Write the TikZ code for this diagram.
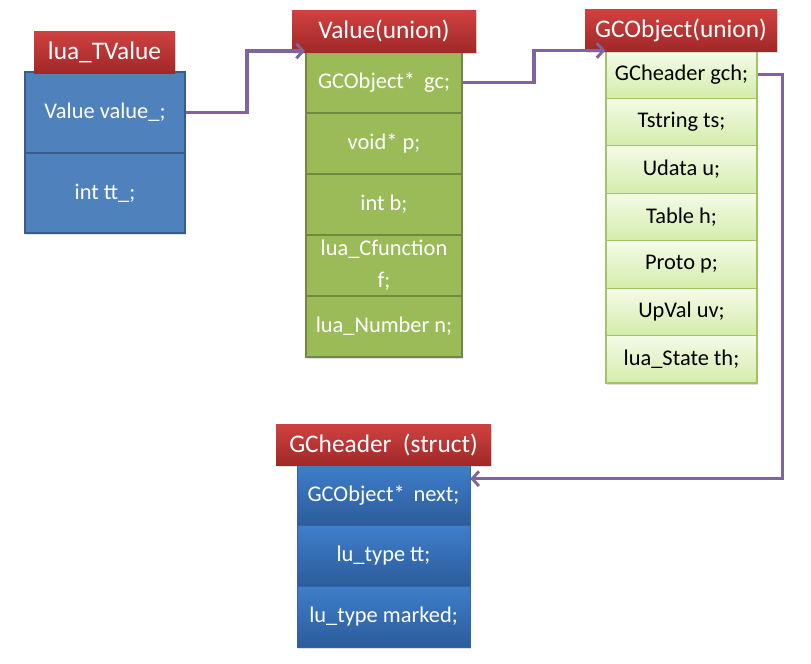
\documentclass[tikz,border=0pt]{standalone}
\usepackage{fontspec}
\setmainfont{Carlito}
\usetikzlibrary{arrows.meta,shadows}

\definecolor{hdtop}{RGB}{208,66,64}
\definecolor{hdbot}{RGB}{160,40,40}
\definecolor{tvblue}{RGB}{79,129,189}
\definecolor{tvline}{RGB}{56,93,138}
\definecolor{valgreen}{RGB}{155,187,89}
\definecolor{valline}{RGB}{113,137,63}
\definecolor{gcotop}{RGB}{244,251,232}
\definecolor{gcobot}{RGB}{212,236,170}
\definecolor{gcoline}{RGB}{160,196,104}
\definecolor{gchtop}{RGB}{62,126,203}
\definecolor{gchbot}{RGB}{44,92,154}
\definecolor{linkpurple}{RGB}{128,100,162}

\tikzset{
  soft/.style={drop shadow={shadow xshift=1pt,shadow yshift=-1.5pt,opacity=.25}},
  head/.style={soft,top color=hdtop,bottom color=hdbot,text=white,
    font=\fontsize{19}{21}\selectfont,minimum height=31.5pt,inner sep=0pt},
  cell/.style={inner sep=0pt,align=center,font=\fontsize{16.8}{24}\selectfont},
  tvcell/.style={cell,soft,fill=tvblue,draw=tvline,line width=1.5pt,text=white,
    minimum width=120pt},
  valcell/.style={cell,soft,fill=valgreen,draw=valline,line width=1.5pt,text=white,
    minimum width=117pt,minimum height=45.75pt},
  gcocell/.style={cell,soft,top color=gcotop,bottom color=gcobot,draw=gcoline,
    line width=.8pt,text=black,minimum width=113.25pt,minimum height=35.57pt},
  gchcell/.style={cell,soft,top color=gchtop,bottom color=gchbot,draw=gchtop!80!black,
    line width=.4pt,text=white,minimum width=129.75pt,minimum height=45.5pt},
  link/.style={draw=linkpurple,line width=2.6pt,
    -{Straight Barb[length=5pt,width=11pt,line width=2.2pt]}}
}

\begin{document}
\begin{tikzpicture}[x=0.75pt,y=-0.75pt]
  \useasboundingbox (0,0) rectangle (811,664);

  % lua_TValue
  \node[tvcell,minimum height=60.75pt] (tv1) at (105,112.5) {Value value\_;};
  \node[tvcell,minimum height=60pt]    (tv2) at (105,193)   {int tt\_;};
  \node[head,minimum width=105.75pt] (tvhead) at (104.5,52) {lua\_TValue};

  % Value(union)
  \node[valcell] (val1) at (384,82.5)  {GCObject*\hspace{.4em}gc;};
  \node[valcell] (val2) at (384,143.5) {void* p;};
  \node[valcell] (val3) at (384,204.5) {int b;};
  \node[valcell] (val4) at (384,265.5) {lua\_Cfunction\\f;};
  \node[valcell] (val5) at (384,326.5) {lua\_Number n;};
  \node[head,minimum width=138pt] (valhead) at (384,31) {Value(union)};

  % GCObject(union)
  \node[gcocell] (gco1) at (681.5,74.7)  {GCheader gch;};
  \node[gcocell] (gco2) at (681.5,122.1) {Tstring ts;};
  \node[gcocell] (gco3) at (681.5,169.6) {Udata u;};
  \node[gcocell] (gco4) at (681.5,217.0) {Table h;};
  \node[gcocell] (gco5) at (681.5,264.4) {Proto p;};
  \node[gcocell] (gco6) at (681.5,311.9) {UpVal uv;};
  \node[gcocell] (gco7) at (681.5,359.3) {lua\_State th;};
  \node[head,minimum width=144pt] (gcohead) at (681,30) {GCObject(union)};

  % GCheader (struct)
  \node[gchcell] (gch1) at (383.5,495.3) {GCObject*\hspace{.4em}next;};
  \node[gchcell] (gch2) at (383.5,556)   {lu\_type tt;};
  \node[gchcell] (gch3) at (383.5,616.7) {lu\_type marked;};
  \node[head,minimum width=161.25pt,minimum height=30.75pt] (gchhead) at (383.5,444.5) {GCheader\hspace{.45em}(struct)};

  % pointers
  \draw[link] (tv1.east) -- ++(61,0) |- (val1.north west);
  \draw[link] (val1.east) -- ++(71,0) |- (gco1.north west);
  \draw[link] (gco1.east) -- ++(25,0) |- ([yshift=-10.5pt]gch1.north east);

\end{tikzpicture}
\end{document}
